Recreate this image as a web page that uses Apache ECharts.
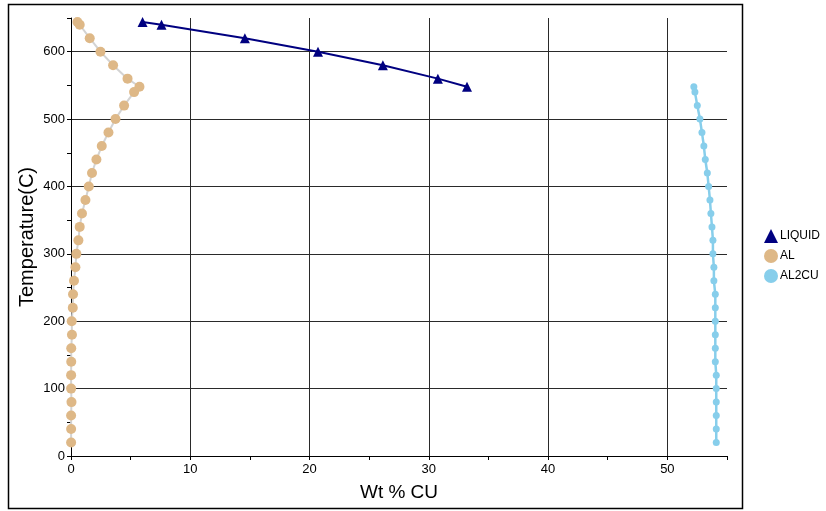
<!DOCTYPE html>
<html>
<head>
<meta charset="utf-8">
<script src="https://cdn.jsdelivr.net/npm/echarts@6/dist/echarts.min.js"></script>
<style>
  html, body { margin: 0; padding: 0; background: #fff; }
  #chart { width: 826px; height: 511px; }
</style>
</head>
<body>
<div id="chart"></div>
<script>
// Al-Cu phase boundaries: temperature (C) against composition (wt % Cu)
const liquidTemp = [644, 640, 620, 600, 580, 560, 548];
const liquidCu   = [6.0, 7.59, 14.58, 20.71, 26.15, 30.76, 33.2];

const alTemp = [644, 640, 620, 600, 580, 560, 548, 540, 520, 500, 480, 460, 440, 420, 400, 380,
                360, 340, 320, 300, 280, 260, 240, 220, 200, 180, 160, 140, 120, 100, 80, 60, 40, 20];
const alCu   = [0.54, 0.73, 1.57, 2.47, 3.53, 4.74, 5.74, 5.29, 4.45, 3.73, 3.14, 2.58, 2.13, 1.76, 1.49, 1.21,
                0.92, 0.73, 0.62, 0.45, 0.37, 0.25, 0.17, 0.15, 0.06, 0.08, 0.02, 0.02, 0.01, 0.01, 0.04, 0.01, 0.01, 0.01];

const al2cuTemp = [548, 540, 520, 500, 480, 460, 440, 420, 400, 380, 360, 340, 320, 300,
                   280, 260, 240, 220, 200, 180, 160, 140, 120, 100, 80, 60, 40, 20];
const al2cuCu   = [52.22, 52.31, 52.51, 52.73, 52.90, 53.06, 53.18, 53.35, 53.46, 53.57, 53.65, 53.74, 53.82, 53.82,
                   53.90, 53.90, 54.02, 54.02, 54.02, 54.02, 54.02, 54.02, 54.1, 54.1, 54.1, 54.1, 54.1, 54.1];

const seriesNames = ['LIQUID', 'AL', 'AL2CU'];
const xTitle = 'Wt % CU';
const yTitle = 'Temperature(C)';

const pairs = (xs, ys) => xs.map((x, i) => [x, ys[i]]);
const font = 'Liberation Sans, Arial, sans-serif';

const chart = echarts.init(document.getElementById('chart'));
chart.setOption({
  animation: false,
  backgroundColor: '#fff',
  graphic: [{
    type: 'rect',
    shape: { x: 8.5, y: 4.5, width: 734, height: 504 },
    style: { fill: 'none', stroke: '#000', lineWidth: 1.5 },
    z: -1
  }],
  grid: { left: 71, right: 99, top: 18, bottom: 55 },
  legend: {
    orient: 'vertical',
    left: 759,
    top: 224,
    itemWidth: 14,
    itemHeight: 14,
    itemGap: 6,
    textStyle: { fontFamily: font, fontSize: 12, color: '#000', padding: [0, 0, 0, -3] },
    data: [
      { name: seriesNames[0], icon: 'triangle' },
      { name: seriesNames[1], icon: 'circle' },
      { name: seriesNames[2], icon: 'circle' }
    ]
  },
  xAxis: [{
    type: 'value', min: 0, max: 55, interval: 5,
    name: xTitle, nameLocation: 'middle', nameGap: 27, nameMoveOverlap: false,
    nameTextStyle: { fontFamily: font, fontSize: 19, color: '#000' },
    axisLine: { show: true, lineStyle: { color: '#000', width: 1 } },
    axisTick: { show: true, length: 4, lineStyle: { color: '#000' } },
    axisLabel: {
      margin: 7, fontFamily: font, fontSize: 13, color: '#000',
      formatter: v => (v % 10 === 0 ? String(v) : '')
    },
    splitLine: { show: false }
  }, {
    type: 'value', min: 0, max: 55, interval: 10, position: 'bottom',
    axisLine: { show: false }, axisTick: { show: false }, axisLabel: { show: false },
    splitLine: { show: true, showMinLine: false, showMaxLine: false, lineStyle: { color: '#2a2a2a', width: 1 } }
  }],
  yAxis: [{
    type: 'value', min: 0, max: 650, interval: 50,
    name: yTitle, nameLocation: 'middle', nameGap: 34, nameRotate: 90, nameMoveOverlap: false,
    nameTextStyle: { fontFamily: font, fontSize: 20, color: '#000' },
    axisLine: { show: true, lineStyle: { color: '#000', width: 1 } },
    axisTick: { show: true, length: 4, lineStyle: { color: '#000' } },
    axisLabel: {
      margin: 6, fontFamily: font, fontSize: 13, color: '#000',
      formatter: v => (v % 100 === 0 ? String(v) : '')
    },
    splitLine: { show: false }
  }, {
    type: 'value', min: 0, max: 650, interval: 100, position: 'left',
    axisLine: { show: false }, axisTick: { show: false }, axisLabel: { show: false },
    splitLine: { show: true, showMinLine: false, showMaxLine: false, lineStyle: { color: '#2a2a2a', width: 1 } }
  }],
  series: [{
    name: seriesNames[0], type: 'line', xAxisIndex: 0, yAxisIndex: 0,
    data: pairs(liquidCu, liquidTemp),
    symbol: 'triangle', symbolSize: 10,
    lineStyle: { color: '#000080', width: 2 },
    itemStyle: { color: '#000080' },
    z: 4
  }, {
    name: seriesNames[1], type: 'line', xAxisIndex: 0, yAxisIndex: 0,
    data: pairs(alCu, alTemp),
    symbol: 'circle', symbolSize: 10,
    lineStyle: { color: '#d3d3d3', width: 2 },
    itemStyle: { color: '#deb887' },
    z: 3
  }, {
    name: seriesNames[2], type: 'line', xAxisIndex: 0, yAxisIndex: 0,
    data: pairs(al2cuCu, al2cuTemp),
    symbol: 'circle', symbolSize: 7,
    lineStyle: { color: '#87ceeb', width: 2.5 },
    itemStyle: { color: '#87ceeb' },
    z: 3
  }]
});
</script>
</body>
</html>
